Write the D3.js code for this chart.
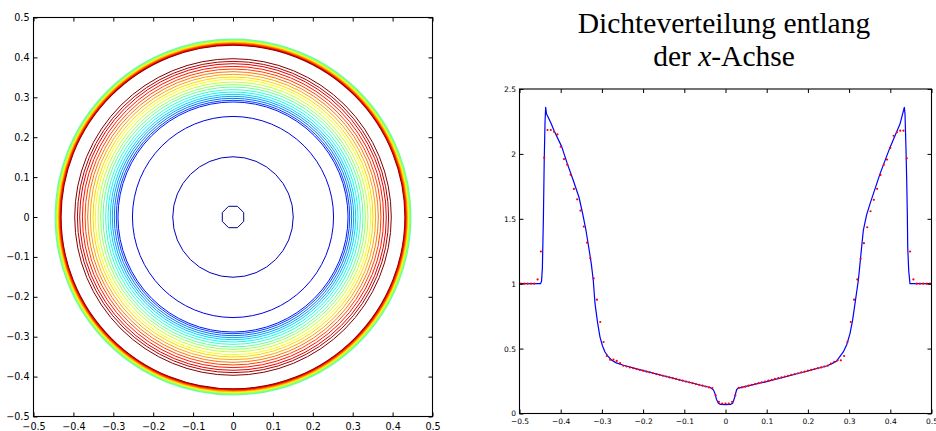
<!DOCTYPE html>
<html>
<head>
<meta charset="utf-8">
<script src="https://cdn.jsdelivr.net/npm/d3@7"></script>
<style>
  html, body { margin: 0; padding: 0; background: #fff; }
  svg { display: block; }
</style>
</head>
<body>
<svg id="chart" width="936" height="431"></svg>
<script>
// ---- tick values and labels ----
const posTicks = [-0.5, -0.4, -0.3, -0.2, -0.1, 0, 0.1, 0.2, 0.3, 0.4, 0.5];
const posTickLabels = ["\u22120.5", "\u22120.4", "\u22120.3", "\u22120.2", "\u22120.1", "0", "0.1", "0.2", "0.3", "0.4", "0.5"];
const densityTicks = [0, 0.5, 1, 1.5, 2, 2.5];
const densityTickLabels = ["0", "0.5", "1", "1.5", "2", "2.5"];

// ---- density contours of the 2D field (level, radius of the iso-line) ----
// expansion region behind the shock, from the centre outwards
const coreLevels = [0.1, 0.2, 0.3, 0.4, 0.5, 0.6, 0.7, 0.8, 0.9, 1.0, 1.1,
                    1.2, 1.3, 1.4, 1.5, 1.6, 1.7, 1.8, 1.9, 2.0, 2.1, 2.2];
const coreRadii  = [0.029, 0.151, 0.252, 0.2883, 0.2925, 0.2975, 0.3025, 0.3075, 0.3133, 0.3192, 0.3258,
                    0.3317, 0.3383, 0.345, 0.3508, 0.3575, 0.3642, 0.3708, 0.3775, 0.3842, 0.390, 0.3967];
// iso-lines packed into the outgoing shock front
const shockLevels = [2.2, 2.1, 2.0, 1.9, 1.8, 1.7, 1.6, 1.5, 1.4, 1.3, 1.2, 1.1];
const shockRadii  = [0.4310, 0.4322, 0.4334, 0.4346, 0.4358, 0.4370, 0.4382, 0.4394, 0.4408, 0.4422, 0.4438, 0.4458];

// ---- density along the x-axis ----
// reference solution (fine mesh): [x, rho]
const fineProfile = [
  [-0.5, 1.0], [-0.449, 1.0], [-0.4465, 1.02], [-0.4445, 1.12], [-0.442, 1.5], [-0.440, 1.95],
  [-0.438, 2.25], [-0.4365, 2.358], [-0.4345, 2.31], [-0.4316, 2.29], [-0.424, 2.24], [-0.4163, 2.18],
  [-0.3976, 2.056], [-0.384, 1.925], [-0.3694, 1.795], [-0.3556, 1.666], [-0.3466, 1.538], [-0.3386, 1.41],
  [-0.332, 1.281], [-0.3257, 1.153], [-0.3209, 1.025], [-0.3167, 0.846], [-0.3105, 0.70], [-0.3046, 0.589],
  [-0.2985, 0.52], [-0.2925, 0.474], [-0.285, 0.44], [-0.2762, 0.41], [-0.265, 0.39], [-0.248, 0.372],
  [-0.1995, 0.330], [-0.1104, 0.258], [-0.0376, 0.200], [-0.0335, 0.192], [-0.029, 0.18], [-0.0255, 0.154],
  [-0.022, 0.11], [-0.0175, 0.08], [-0.012, 0.07], [0, 0.069], [0.012, 0.07], [0.0175, 0.08],
  [0.0214, 0.115], [0.025, 0.16], [0.0272, 0.185], [0.031, 0.195], [0.0999, 0.246], [0.1808, 0.312],
  [0.2456, 0.366], [0.262, 0.39], [0.2699, 0.405], [0.2859, 0.474], [0.2942, 0.53], [0.3022, 0.615],
  [0.3085, 0.72], [0.3143, 0.846], [0.3185, 0.94], [0.3224, 1.025], [0.3285, 1.22], [0.3345, 1.41],
  [0.3425, 1.53], [0.3507, 1.615], [0.375, 1.846], [0.3993, 2.05], [0.4235, 2.23], [0.434, 2.358],
  [0.4357, 2.31], [0.438, 2.05], [0.4398, 1.8], [0.4413, 1.54], [0.4423, 1.28], [0.4447, 1.1],
  [0.4478, 1.0], [0.5, 1.0]
];
// coarse-mesh solution, one value per cell (125 cells of width 0.008)
const cellCount = 125;
const cellWidth = 0.008;
const coarseDensity = [
  1.0, 1.0, 1.0, 1.0, 1.0,
  1.033, 1.248, 1.971, 2.184, 2.184,
  2.17, 2.15, 2.055, 1.96, 1.917,
  1.84, 1.73, 1.65, 1.563, 1.44,
  1.316, 1.196, 1.041, 0.877, 0.705,
  0.551, 0.443, 0.415, 0.415, 0.405,
  0.388, 0.368, 0.362, 0.355, 0.349,
  0.342, 0.336, 0.330, 0.323, 0.317,
  0.310, 0.304, 0.298, 0.291, 0.285,
  0.278, 0.272, 0.266, 0.259, 0.253,
  0.246, 0.240, 0.234, 0.227, 0.221,
  0.214, 0.208, 0.201, 0.195, 0.140,
  0.090, 0.077, 0.077, 0.077, 0.090,
  0.140, 0.197, 0.201, 0.207, 0.214,
  0.221, 0.227, 0.234, 0.240, 0.246,
  0.253, 0.259, 0.266, 0.272, 0.278,
  0.285, 0.291, 0.298, 0.304, 0.310,
  0.317, 0.323, 0.330, 0.336, 0.342,
  0.349, 0.355, 0.362, 0.368, 0.385,
  0.397, 0.410, 0.410, 0.443, 0.551,
  0.705, 0.877, 1.033, 1.192, 1.312,
  1.435, 1.558, 1.646, 1.731, 1.838,
  1.915, 1.956, 2.046, 2.140, 2.166,
  2.179, 2.179, 1.966, 1.248, 1.033,
  1.0, 1.0, 1.0, 1.0, 1.0
];
const cellCenters = d3.range(cellCount).map(i => -0.5 + cellWidth * (i + 0.5));

// ---------------------------------------------------------------------------
const svg = d3.select("#chart");
const tickFont = "DejaVu Sans, Liberation Sans, sans-serif";

// jet colour map for the contour levels
const jet = d3.scaleLinear()
  .domain([0, 0.125, 0.375, 0.625, 0.875, 1])
  .range(["#00008f", "#0000ff", "#00ffff", "#ffff00", "#ff0000", "#800000"])
  .interpolate(d3.interpolateRgb);
const levelScale = d3.scaleLinear().domain(d3.extent(coreLevels)).range([0, 1]);
const levelColor = l => jet(levelScale(l));

// frame + inward ticks on all four sides
function drawFrame(g, sx, sy, xt, xl, yt, yl, fontSize, xPad, yPad) {
  const [x0, x1] = sx.range();
  const [y0, y1] = sy.range();
  const axes = [
    { ax: d3.axisBottom(sx).tickValues(xt).tickFormat((d, i) => xl[i]).tickPadding(xPad), t: `translate(0,${y0})` },
    { ax: d3.axisTop(sx).tickValues(xt).tickFormat(""), t: `translate(0,${y1})` },
    { ax: d3.axisLeft(sy).tickValues(yt).tickFormat((d, i) => yl[i]).tickPadding(yPad), t: `translate(${x0},0)` },
    { ax: d3.axisRight(sy).tickValues(yt).tickFormat(""), t: `translate(${x1},0)` }
  ];
  axes.forEach(a => {
    const ag = g.append("g").attr("transform", a.t)
      .call(a.ax.tickSizeInner(-4).tickSizeOuter(0));
    ag.select(".domain").remove();
    ag.attr("font-family", tickFont).attr("font-size", fontSize);
    ag.selectAll(".tick line").attr("stroke", "#000").attr("stroke-width", 1);
    ag.selectAll(".tick text").attr("fill", "#000");
  });
  g.append("rect")
    .attr("x", x0).attr("y", y1)
    .attr("width", x1 - x0).attr("height", y0 - y1)
    .attr("fill", "none").attr("stroke", "#000").attr("stroke-width", 1.1);
}

// ---- left panel: contour plot ----
const cx = d3.scaleLinear().domain([-0.5, 0.5]).range([33.5, 432.5]);
const cy = d3.scaleLinear().domain([-0.5, 0.5]).range([416.5, 17.5]);
const left = svg.append("g");
const rPx = r => cx(r) - cx(0);

const contours = left.append("g").attr("fill", "none").attr("stroke-width", 1);
const octagon = d3.lineRadial()
  .angle(d => d)
  .radius(() => rPx(coreRadii[0]))
  .curve(d3.curveLinearClosed);
contours.append("path")
  .attr("transform", `translate(${cx(0)},${cy(0)})`)
  .attr("d", octagon(d3.range(8).map(k => Math.PI / 8 + k * Math.PI / 4)))
  .attr("stroke", levelColor(coreLevels[0]));
contours.selectAll("circle.core")
  .data(coreLevels.slice(1).map((l, i) => ({ level: l, r: coreRadii[i + 1] })))
  .join("circle").attr("class", "core")
  .attr("cx", cx(0)).attr("cy", cy(0))
  .attr("r", d => rPx(d.r))
  .attr("stroke", d => levelColor(d.level));
contours.selectAll("circle.shock")
  .data(shockLevels.map((l, i) => ({ level: l, r: shockRadii[i] })))
  .join("circle").attr("class", "shock")
  .attr("cx", cx(0)).attr("cy", cy(0))
  .attr("r", d => rPx(d.r))
  .attr("stroke", d => levelColor(d.level))
  .attr("stroke-width", 1.2);

drawFrame(left, cx, cy, posTicks, posTickLabels, posTicks, posTickLabels, 9.6, 6.5, 4);

// ---- right panel: density along the x-axis ----
const px = d3.scaleLinear().domain([-0.5, 0.5]).range([519.5, 931.5]);
const py = d3.scaleLinear().domain([0, 2.5]).range([413.5, 89]);
const right = svg.append("g");

const line = d3.line().x(d => px(d[0])).y(d => py(d[1]));
right.append("path")
  .datum(fineProfile)
  .attr("d", line)
  .attr("fill", "none")
  .attr("stroke", "#0000ff")
  .attr("stroke-width", 1.2)
  .attr("stroke-linejoin", "round");

right.append("g").attr("fill", "#ff0000")
  .selectAll("circle")
  .data(coarseDensity.map((v, i) => [cellCenters[i], v]))
  .join("circle")
  .attr("cx", d => px(d[0]))
  .attr("cy", d => py(d[1]))
  .attr("r", 1.1);

drawFrame(right, px, py, posTicks, posTickLabels, densityTicks, densityTickLabels, 7.5, 5.5, 3.5);

// ---- title over the right panel ----
const title = svg.append("text")
  .attr("x", 724)
  .attr("text-anchor", "middle")
  .attr("font-family", "Liberation Serif, DejaVu Serif, serif")
  .attr("font-size", 29.5)
  .attr("fill", "#000");
title.append("tspan").attr("x", 724).attr("y", 33).text("Dichteverteilung entlang");
const line2 = title.append("tspan").attr("x", 724).attr("y", 66);
line2.append("tspan").text("der ");
line2.append("tspan").attr("font-style", "italic").text("x");
line2.append("tspan").text("-Achse");
</script>
</body>
</html>
